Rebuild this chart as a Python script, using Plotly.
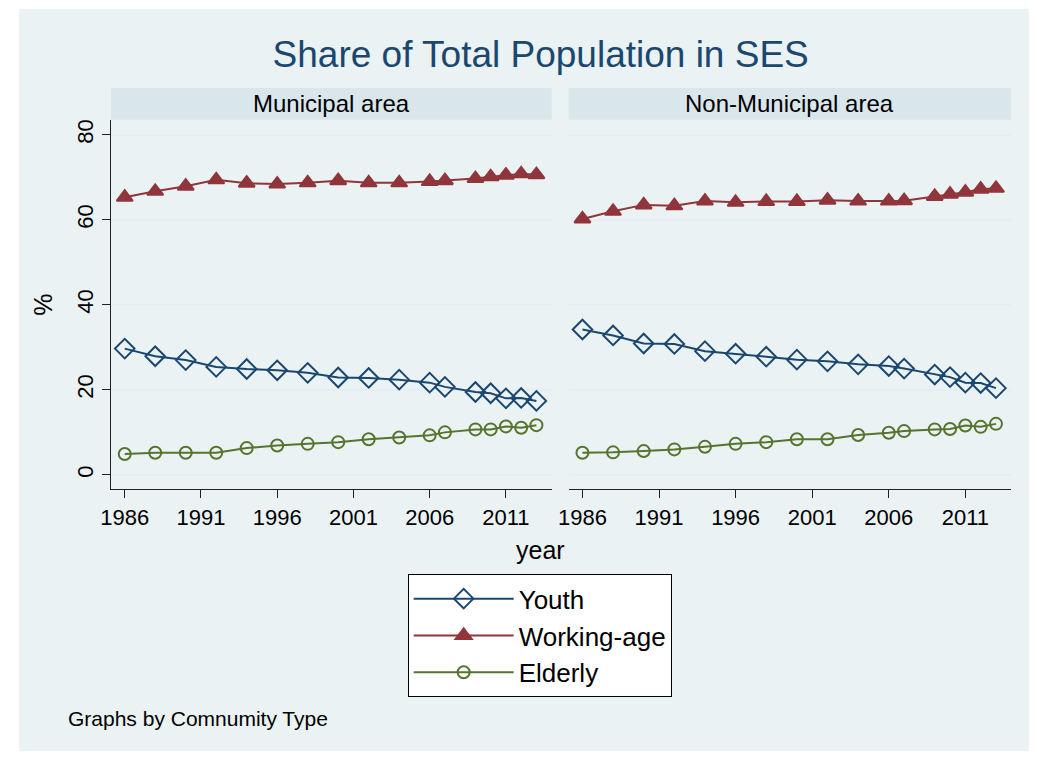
import plotly.graph_objects as go

years = [1986, 1988, 1990, 1992, 1994, 1996, 1998, 2000, 2002, 2004,
         2006, 2007, 2009, 2010, 2011, 2012, 2013]

muni_youth = [29.7, 27.9, 27.0, 25.4, 24.9, 24.6, 24.0, 22.9, 22.8, 22.4,
              21.7, 20.7, 19.5, 19.2, 18.0, 18.1, 17.4]
muni_working = [65.3, 66.7, 67.9, 69.4, 68.6, 68.4, 68.7, 69.2, 68.7, 68.7,
                69.0, 69.2, 69.7, 70.1, 70.5, 70.8, 70.6]
muni_elderly = [4.9, 5.2, 5.2, 5.2, 6.3, 6.9, 7.3, 7.7, 8.4, 8.8,
                9.3, 10.0, 10.7, 10.7, 11.4, 11.1, 11.7]

non_youth = [34.2, 32.8, 30.9, 30.8, 29.1, 28.5, 27.8, 27.1, 26.7, 26.0,
             25.6, 25.0, 23.6, 23.0, 21.7, 21.6, 20.4]
non_working = [60.2, 62.0, 63.5, 63.3, 64.4, 64.1, 64.3, 64.3, 64.6, 64.4,
               64.4, 64.5, 65.5, 66.0, 66.5, 67.2, 67.4]
non_elderly = [5.2, 5.3, 5.6, 6.0, 6.6, 7.3, 7.7, 8.4, 8.4, 9.4,
               9.9, 10.3, 10.7, 10.8, 11.6, 11.3, 12.0]

panel_titles = ["Municipal area", "Non-Municipal area"]
series_names = ["Youth", "Working-age", "Elderly"]
x_ticks = [1986, 1991, 1996, 2001, 2006, 2011]
y_ticks = [0, 20, 40, 60, 80]

OFF = 8
W, H = 1037 - 2 * OFF, 759 - 2 * OFF
NAVY = "#1A476F"
MAROON = "#90353B"
GREEN = "#55752F"
BG = "#EAF2F3"
STRIP = "#D9E6EB"
GRID = "#E6EEF1"
FONT = "Liberation Sans, Arial, sans-serif"

styles = [
    dict(color=NAVY, symbol="diamond-open", size=15),
    dict(color=MAROON, symbol="triangle-up", size=14),
    dict(color=GREEN, symbol="circle-open", size=12),
]

fig = go.Figure()
panels = [(muni_youth, muni_working, muni_elderly),
          (non_youth, non_working, non_elderly)]
for p, data in enumerate(panels):
    xa = "x" if p == 0 else "x2"
    ya = "y" if p == 0 else "y2"
    for name, vals, st in zip(series_names, data, styles):
        fig.add_trace(go.Scatter(
            x=years, y=vals, mode="lines+markers", name=name,
            xaxis=xa, yaxis=ya, showlegend=(p == 0),
            line=dict(color=st["color"], width=2),
            marker=dict(symbol=st["symbol"], size=st["size"], color=st["color"],
                        line=dict(color=st["color"], width=2)),
        ))


def px(v):
    # target horizontal screen position -> paper fraction
    return ((v - 17.92) / 0.99) / W


def py(v):
    return 1 - (v - OFF) / H


left = (110, 551)
right = (568, 1011)
top, bottom = 119, 489
xr = [1985.1, 2014.0]
yr = [-3.4, 83.5]

common_x = dict(range=xr, tickvals=x_ticks, showgrid=False, zeroline=False,
                showline=True, linecolor="#222222", linewidth=1, ticks="outside",
                ticklen=8, tickcolor="#222222",
                tickfont=dict(size=22, color="black", family=FONT))
fig.update_layout(
    xaxis=dict(domain=[px(left[0]), px(left[1])], anchor="y", **common_x),
    xaxis2=dict(domain=[px(right[0]), px(right[1])], anchor="y2", **common_x),
    yaxis=dict(domain=[py(bottom), py(top)], anchor="x", range=yr, tickvals=y_ticks,
               showgrid=True, gridcolor=GRID, gridwidth=1.5, zeroline=False,
               showline=True, linecolor="#222222", linewidth=1, ticks="outside",
               ticklen=8, tickcolor="#222222", tickangle=-90,
               tickfont=dict(size=22, color="black", family=FONT),
               title=dict(text="%", font=dict(size=25, color="black", family=FONT),
                          standoff=13)),
    yaxis2=dict(domain=[py(bottom), py(top)], anchor="x2", range=yr, tickvals=y_ticks,
                showgrid=True, gridcolor=GRID, gridwidth=1.5, zeroline=False,
                showline=False, showticklabels=False, ticks=""),
)

shapes = [
    dict(type="rect", xref="paper", yref="paper", x0=0, x1=1,
         y0=py(759 - OFF), y1=py(OFF), fillcolor=BG, line=dict(width=0), layer="below"),
]
annotations = []
for (x0, x1), t in zip([left, right], panel_titles):
    shapes.append(dict(type="rect", xref="paper", yref="paper", x0=px(x0), x1=px(x1),
                       y0=py(top), y1=py(87), fillcolor=STRIP, line=dict(width=0)))
    annotations.append(dict(text=t, xref="paper", yref="paper", x=px((x0 + x1) / 2),
                            y=py(103), showarrow=False, xanchor="center", yanchor="middle",
                            font=dict(size=24, color="black", family=FONT)))
annotations.append(dict(text="year", xref="paper", yref="paper", x=px(540), y=py(550),
                        showarrow=False, xanchor="center", yanchor="middle",
                        font=dict(size=25, color="black", family=FONT)))
annotations.append(dict(text="Graphs by Comnumity Type", xref="paper", yref="paper",
                        x=px(65), y=py(718), showarrow=False, xanchor="left",
                        yanchor="middle", font=dict(size=21, color="black", family=FONT)))

fig.update_layout(
    width=W, height=H,
    margin=dict(l=0, r=0, t=0, b=0),
    paper_bgcolor="white", plot_bgcolor="white",
    shapes=shapes, annotations=annotations,
    title=dict(text="Share of Total Population in SES", x=px(540), xanchor="center",
               xref="paper", y=py(53), yanchor="middle", yref="paper",
               font=dict(size=37, color=NAVY, family=FONT)),
    legend=dict(x=px(539), xanchor="center", y=py(574), yanchor="top",
                bgcolor="white", bordercolor="black", borderwidth=1,
                font=dict(size=26, color="black", family=FONT),
                itemwidth=100, tracegroupgap=0),
    showlegend=True,
)

fig.write_html("out.html")
